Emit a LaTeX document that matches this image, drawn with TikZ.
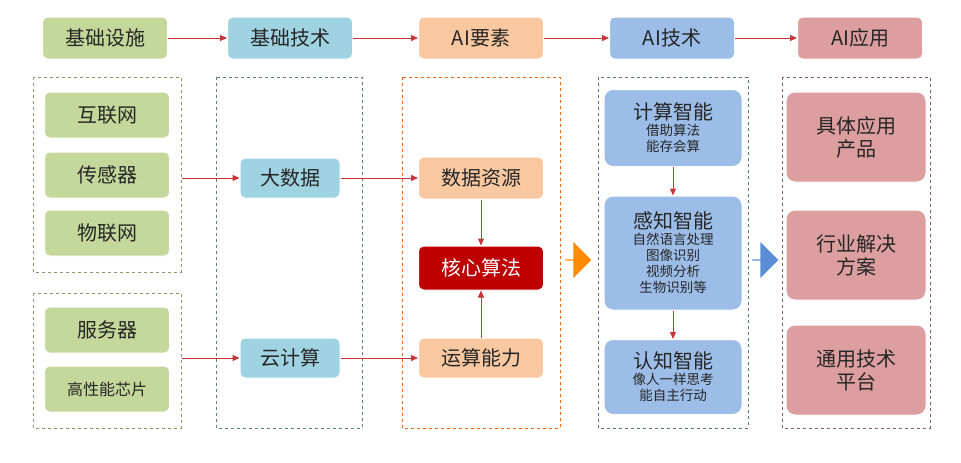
\documentclass[tikz,border=0pt]{standalone}
\usepackage{fontspec}
\setmainfont{Noto Sans CJK SC}
\usetikzlibrary{arrows.meta,shapes.arrows}
\definecolor{gfill}{HTML}{C5D89B}
\definecolor{bfill}{HTML}{9FD3E1}
\definecolor{ofill}{HTML}{F9C8A0}
\definecolor{tfill}{HTML}{9CBDE8}
\definecolor{pfill}{HTML}{DC9E9E}
\definecolor{arr}{HTML}{C8353A}
\definecolor{barrow}{HTML}{5A8FD8}
\newcommand{\bigt}[1]{{\fontsize{20}{23}\selectfont #1}}
\tikzset{
 x=1pt,y=-1pt,
 bx/.style={rounded corners=5pt,draw=white,line width=1pt,minimum width=125pt,minimum height=42pt,font=\fontsize{20}{23}\selectfont,align=center,inner sep=2pt,text=black!85},
 tech/.style={bx,fill=tfill,minimum width=138pt,rounded corners=9pt,font=\fontsize{13.5}{16}\selectfont},
 dbox/.style={dashed,line width=1pt},
 ar/.style={-{Triangle[length=7pt,width=6pt]},arr,line width=1pt},
}
\begin{document}
\begin{tikzpicture}
\useasboundingbox[fill=white] (0,0) rectangle (961,463);
% headers
\node[bx,fill=gfill] (h1) at (105,38) {基础设施};
\node[bx,fill=bfill] (h2) at (290,38) {基础技术};
\node[bx,fill=ofill] (h3) at (481,38) {AI要素};
\node[bx,fill=tfill] (h4) at (672,38) {AI技术};
\node[bx,fill=pfill] (h5) at (860,38) {AI应用};
\draw[ar] (h1) -- (h2); \draw[ar] (h2) -- (h3); \draw[ar] (h3) -- (h4); \draw[ar] (h4) -- (h5);
% dashed frames
\draw[dbox,draw=gfill!70!black] (33,77) rectangle (181,272);
\draw[dbox,draw=gfill!70!black] (33,293) rectangle (181,428);
\draw[dbox,draw=bfill!60!black] (216,77) rectangle (362,428);
\draw[dbox,draw=orange!80!red] (402,77) rectangle (560,428);
\draw[dbox,draw=tfill!60!black] (598,77) rectangle (748,428);
\draw[dbox,draw=pfill!60!black] (782,77) rectangle (930,428);
% column 1
\node[bx,fill=gfill,minimum height=46pt] (a1) at (107,115) {互联网};
\node[bx,fill=gfill,minimum height=46pt] (a2) at (107,175) {传感器};
\node[bx,fill=gfill,minimum height=46pt] (a3) at (107,233) {物联网};
\node[bx,fill=gfill,minimum height=46pt] (a4) at (107,330) {服务器};
\node[bx,fill=gfill,minimum height=46pt,font=\fontsize{16}{19}\selectfont] (a5) at (107,389) {高性能芯片};
\coordinate (s1) at (182,178);
\coordinate (s2) at (182,358);
% column 2
\node[bx,fill=bfill,minimum width=100pt,minimum height=40pt] (b1) at (290,178) {大数据};
\node[bx,fill=bfill,minimum width=100pt,minimum height=40pt] (b2) at (290,358) {云计算};
% column 3
\node[bx,fill=ofill,minimum height=42pt] (c1) at (481,178) {数据资源};
\node[bx,fill=red!75!black,text=white,minimum height=44pt] (c2) at (481,268) {核心算法};
\node[bx,fill=ofill,minimum height=40pt] (c3) at (481,358) {运算能力};
\draw[ar] (s1) -- (b1); \draw[ar] (b1) -- (c1);
\draw[ar] (s2) -- (b2);
\draw[ar] (b2) -- (c3);
\draw[ar] (c1) -- (c2); \draw[ar] (c3) -- (c2);
% big arrows
\node[single arrow,fill=orange!90!yellow,minimum height=26pt,minimum width=36pt,single arrow head extend=5pt,inner sep=0pt] (o1) at (578,260) {};
\node[single arrow,fill=barrow,minimum height=26pt,minimum width=36pt,single arrow head extend=5pt,inner sep=0pt] (o2) at (765,260) {};
% column 4
\node[tech,minimum height=77pt] (d1) at (673,128) {\bigt{计算智能}\\借助算法\\能存会算};
\node[tech,minimum height=114pt] (d2) at (673,253) {\bigt{感知智能}\\自然语言处理\\图像识别\\视频分析\\生物识别等};
\node[tech,minimum height=75pt] (d3) at (673,377) {\bigt{认知智能}\\像人一样思考\\能自主行动};
\draw[ar] (d1) -- (d2); \draw[ar] (d2) -- (d3);
% column 5
\node[bx,fill=pfill,minimum width=140pt,minimum height=90pt,rounded corners=9pt] (e1) at (856,137) {具体应用\\产品};
\node[bx,fill=pfill,minimum width=140pt,minimum height=90pt,rounded corners=9pt] (e2) at (856,255) {行业解决\\方案};
\node[bx,fill=pfill,minimum width=140pt,minimum height=90pt,rounded corners=9pt] (e3) at (856,370) {通用技术\\平台};
\end{tikzpicture}
\end{document}
